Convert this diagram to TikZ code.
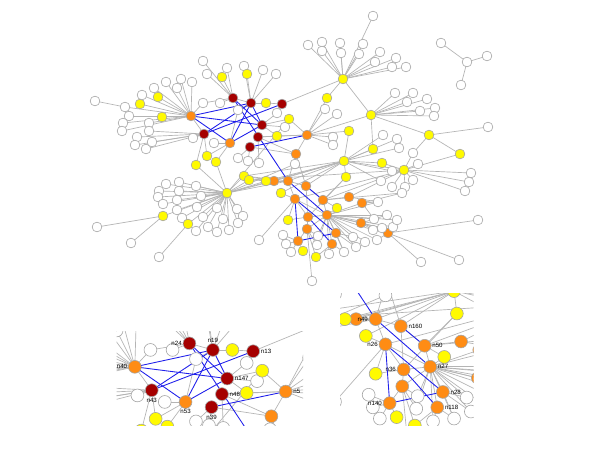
\documentclass[tikz,border=0pt]{standalone}
\usepackage{fontspec}
\setmainfont{Liberation Sans}
\definecolor{nyel}{RGB}{255,250,0}
\definecolor{nora}{RGB}{255,140,20}
\definecolor{nred}{RGB}{165,0,0}
\definecolor{edgegray}{RGB}{180,180,180}
\definecolor{bordergray}{RGB}{165,165,165}
\definecolor{edgeblue}{RGB}{30,30,235}
\tikzset{
 gedge/.style={draw=edgegray, line width=0.5pt},
 bedge/.style={draw=edgeblue, line width=0.65pt},
 nbase/.style={circle, draw=bordergray, line width=0.45pt, inner sep=0pt, minimum size=\nodesz},
 nw/.style={nbase, fill=white},
 ny/.style={nbase, fill=nyel},
 no/.style={nbase, fill=nora},
 nr/.style={nbase, fill=nred},
 lbl/.style={font=\fontsize{4.6}{5}\selectfont, inner sep=0.6pt, text=black}
}
\def\nodesz{7.3pt}
\def\nodelist{t0/467/62/w, t1/441/43/w, t2/487/56/w, t3/461/85/w,
A/343/79/y, a1/308/45/w, a2/322/42/w, a3/322/51/w, a4/340/43/w, a5/341/53/w, a6/363/44/w, a7/359/54/w, a8/380/52/w, a9/375/62/w, a10/396/58/w, a11/392/67/w, a12/406/67/w, a13/373/16/w,
B/371/115/y, b1/395/93/w, b2/413/93/w, b3/407/102/w, b4/427/99/w, b5/420/111/w, b6/435/108/w, b7/434/116/w,
C/429/135/y, c1/488/127/w, C2/460/154/y,
A2/327/98/y, n5/307/135/o, w1/325/109/w, w2/337/114/w, y349/349/131/y, w3/333/137/w, w4/333/145/w,
E/344/161/y, D/404/170/y, y373/373/149/y, y382/382/163/y, y346/346/177/y, y337/337/208/y,
r1/383/135/w, r2/397/139/w, r3/399/148/w, r4/413/153/w, r5/418/164/w, r6/392/171/w, r7/381/181/w, r8/413/180/w, r9/392/187/w, r10/405/187/w, r11/402/193/w, r12/378/202/w, r13/471/173/w, r14/469/182/w, r15/465/191/w,
o274/274/181/o, n49/288/181/o, n160/306/186/o, n26/295/199/o, n50/323/200/o, o349/349/197/o, o362/362/203/o, n27/327/215/o, n36/308/217/o, o307/307/229/o, n28/336/233/o, n140/298/241/o, n118/332/244/o, o361/361/223/o, o388/388/233/o, o296/296/154/o,
y245/244/176/y, y250/249/180/y, y266/266/181/y, y281/281/193/y, y288/288/220/y, y304/303/251/y, y316/316/257/y,
l1/259/240/w, l2/283/235/w, l3/286/244/w, l4/291/252/w, l5/318/236/w, l6/317/245/w, l7/329/254/w, l8/344/252/w, l9/353/237/w, l10/356/247/w, l11/365/242/w, l12/377/240/w, l13/373/230/w, l14/382/228/w, l15/393/227/w, l16/387/215/w, l17/397/220/w, l18/374/219/w, l19/421/262/w, l20/459/260/w, l21/478/220/w, l22/312/281/w, l23/295/164/w,
n24/233/98/r, n19/251/103/r, yt/266/103/y, n13/282/104/r, n147/262/125/r, n48/258/137/r, n39/250/147/r, n53/230/143/o, n43/204/134/r, n40/191/116/o,
u1/203/61/w, u2/207/74/w, u3/227/68/w, u4/222/77/y, u5/244/66/w, u6/247/74/y, u7/263/70/w, u8/276/74/w,
m1/203/103/w, m2/220/103/w, m3/238/110/w, m4/277/113/w, m5/285/127/w, y289/289/119/y, y277/277/136/y, m6/214/143/w, m7/238/158/w, m8/248/161/w, m9/259/163/w, y207/207/156/y, y196/196/165/y, y216/216/162/y,
G/227/193/y, g1/166/184/w, g2/179/182/w, g3/196/186/w, g4/159/191/w, g5/179/191/w, g6/201/196/w, g7/158/197/w, g8/177/200/w, g9/163/204/w, g10/197/207/w, g11/177/210/w, g12/217/208/w, g13/203/217/w, g14/182/218/w, g15/237/209/w, g16/243/216/w, g17/223/219/w, g18/238/223/w, g19/208/227/w, g20/217/232/w, g21/229/230/w, g22/196/231/w, yg1/163/216/y, yg2/188/224/y, g23/131/243/w, g24/159/257/w, g25/97/227/w,
p1/95/101/w, p2/125/107/w, yp1/140/104/y, yp2/158/97/y, p3/142/95/w, p4/154/88/w, p5/166/82/w, p6/177/88/w, p7/181/79/w, p8/192/82/w, yp3/162/117/y, p9/129/116/w, p10/123/123/w, p11/122/131/w, p12/149/123/w, p13/149/131/w, p14/137/137/w, p15/135/145/w, p16/146/149/w, p17/152/142/w, p18/193/138/w}
\def\grayedges{t0/t1, t0/t2, t0/t3,
A/a1, A/a2, A/a3, A/a4, A/a5, A/a6, A/a7, A/a8, A/a9, A/a10, A/a11, A/a12, A/a13, A/A2, A/B, A/n13,
B/b1, B/b2, B/b3, B/b4, B/b5, B/b6, B/b7, B/C, B/y373, B/n5,
C/c1, C/C2, C/r4, C2/D,
A2/n5, n5/w1, n5/w2, n5/y349, n5/w3, n5/w4, n5/o296, n5/y277, n5/y289, n5/n48,
y349/E, y373/E,
E/r1, E/r2, E/r3, E/y382, E/r6, E/r7, E/D, E/y346, E/y245, E/y266, E/n49, E/n160, E/o274, E/y281, E/G,
D/r4, D/r5, D/r8, D/r13, D/r14, D/r15, D/y382, D/n26, D/o349, D/y250, D/n50, D/r9, D/r10,
y346/n50, y346/n36,
o349/n50, o349/r12, o362/r11, o362/r12, o362/n27, o362/l18,
n50/r11, n50/n27, n50/y337,
n27/y337, n27/l5, n27/l18, n27/l16, n27/l17, n27/l15, n27/l14, n27/l13, n27/l12, n27/l11, n27/l10, n27/l9, n27/l8, n27/l7, n27/l6, n27/n36, n27/o307, n27/o361, n27/n28, n27/n118, n27/n26, n27/r12,
o361/l13, o361/l14, o361/l20, o361/l16,
o388/l19, o388/l21, o388/l15, o388/l17, o388/l12,
n140/l2, n140/l3, n140/l4, n140/y304, n140/o307,
o307/y316, o307/l6, o307/n36, o307/l22, o307/l5,
n118/l7, n118/y316, n118/l8,
n28/l8, n28/l9, n28/l10,
n36/y288, n36/n26, n36/n160,
n26/y281, n26/y288, n26/n49, n26/l1,
n49/y266, n49/o296, n49/n160, n49/y245,
n160/n50, n160/o296,
o274/y250, o274/y245, o274/G,
o296/l23, o296/n39, o296/n48,
n24/u1, n24/u2, n24/u3, n24/u4, n24/m1, n24/m2, n24/n19,
n19/u5, n19/u6, n19/u7, n19/u8, n19/yt, n19/m3,
n13/yt, n13/m4,
n147/m4, n147/y289, n147/m5, n147/y277,
n48/y277, n48/m9,
n39/m7, n39/m8,
n53/m6, n53/y216, n53/y207, n53/m3,
n43/p14, n43/p15, n43/p16, n43/p17, n43/p18, n43/p13, n43/y207, n43/y196, n43/n40,
n40/p2, n40/yp1, n40/yp2, n40/p3, n40/p4, n40/p5, n40/p6, n40/p7, n40/p8, n40/yp3, n40/p9, n40/p10, n40/p11, n40/p12, n40/m1,
p1/p2,
G/g1, G/g2, G/g3, G/g4, G/g5, G/g6, G/g7, G/g8, G/g9, G/g10, G/g11, G/g12, G/g13, G/g14, G/g15, G/g16, G/g17, G/g18, G/g19, G/g20, G/g21, G/g22,
G/yg1, G/yg2, yg1/g23, yg1/g25, yg2/g24, G/y196, G/y216, G/y245, G/y250, G/y266, G/n49, G/l23, G/y289}
\def\blueedges{n40/n19, n40/n147, n40/n53, n43/n13, n43/n19, n24/n147, n24/n49, n19/n53, n19/n147, n53/n147, n39/n5, n49/n27, n160/n50, n26/n28, n26/n140, n36/n118, n140/n28}
\newcommand\drawnet[1]{%
 \foreach \ni/\nx/\ny/\nt in \nodelist {\coordinate (#1\ni) at (\nx,\ny);}
 \foreach \ua/\ub in \grayedges {\draw[gedge] (#1\ua) -- (#1\ub);}
 \foreach \ua/\ub in \blueedges {\draw[bedge] (#1\ua) -- (#1\ub);}
 \foreach \ni/\nx/\ny/\nt in \nodelist {\node[n\nt] (#1c\ni) at (#1\ni) {};}
}
\begin{document}
\begin{tikzpicture}[x=0.75pt,y=-0.75pt]
\useasboundingbox (0,0) rectangle (600,450);
\fill[white] (0,0) rectangle (600,450);
\drawnet{M}
% left inset
\begin{scope}
\clip (116.5,331) rectangle (303,425);
\begin{scope}[shift={(-113.5,216)},scale=1.3]
\def\nodesz{9.6pt}
\drawnet{L}
\end{scope}
\node[lbl,left] (Lln24) at (Lcn24.west) {n24};
\node[lbl,above] (Lln19) at (Lcn19.north) {n19};
\node[lbl,right] (Lln13) at (Lcn13.east) {n13};
\node[lbl,left] (Lln40) at (Lcn40.west) {n40};
\node[lbl,right] (Lln147) at (Lcn147.east) {n147};
\node[lbl,below] (Lln43) at (Lcn43.south) {n43};
\node[lbl,right] (Lln48) at (Lcn48.east) {n48};
\node[lbl,below] (Lln53) at (Lcn53.south) {n53};
\node[lbl,below] (Lln39) at (Lcn39.south) {n39};
\node[lbl,right] (Lln5) at (Lcn5.east) {n5};
\end{scope}
% right inset
\begin{scope}
\clip (340,293) rectangle (473.5,425);
\begin{scope}[shift={(-27.6,65.7)},scale=1.4]
\def\nodesz{9.6pt}
\drawnet{R}
\end{scope}
\node[lbl,left] (Rln49) at (Rcn49.west) {n49};
\node[lbl,right] (Rln160) at (Rcn160.east) {n160};
\node[lbl,left] (Rln26) at (Rcn26.west) {n26};
\node[lbl,right] (Rln50) at (Rcn50.east) {n50};
\node[lbl,left] (Rln36) at (Rcn36.west) {n36};
\node[lbl,right] (Rln27) at (Rcn27.east) {n27};
\node[lbl,right] (Rln28) at (Rcn28.east) {n28};
\node[lbl,left] (Rln140) at (Rcn140.west) {n140};
\node[lbl,right] (Rln118) at (Rcn118.east) {n118};
\end{scope}
\end{tikzpicture}
\end{document}
